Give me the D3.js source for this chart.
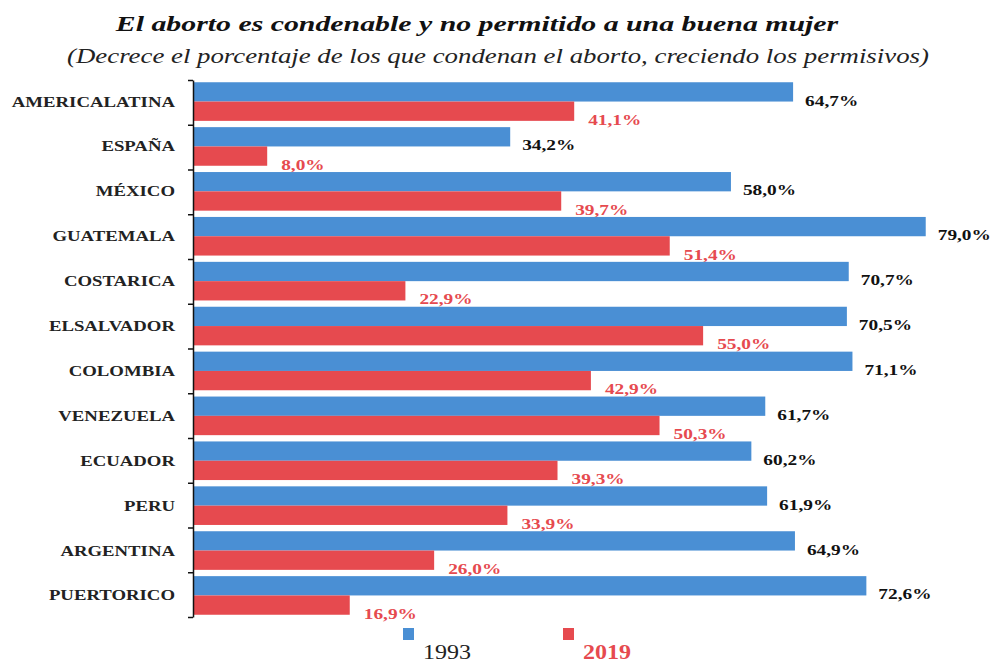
<!DOCTYPE html>
<html>
<head>
<meta charset="utf-8">
<script src="https://cdn.jsdelivr.net/npm/d3@7"></script>
<style>
  body { margin: 0; background: #fff; }
  text { font-family: "Liberation Serif", "DejaVu Serif", serif; }
</style>
</head>
<body>
<div class="chart"></div>
<script>
const countries = ['AMERICALATINA', 'ESPAÑA', 'MÉXICO', 'GUATEMALA', 'COSTARICA', 'ELSALVADOR',
    'COLOMBIA', 'VENEZUELA', 'ECUADOR', 'PERU', 'ARGENTINA', 'PUERTORICO'];
const years = ['1993', '2019'];
const values1993 = [64.7, 34.2, 58.0, 79.0, 70.7, 70.5, 71.1, 61.7, 60.2, 61.9, 64.9, 72.6];
const values2019 = [41.1, 8.0, 39.7, 51.4, 22.9, 55.0, 42.9, 50.3, 39.3, 33.9, 26.0, 16.9];

const title = 'El aborto es condenable y no permitido a una buena mujer';
const subtitle = '(Decrece el porcentaje de los que condenan el aborto, creciendo  los permisivos)';

const fullWidth = 992;
const fullHeight = 664;
const margin = { top: 80, left: 193 };
const plotHeight = 537;
const blue = '#4a8fd4';
const red = '#e64a4f';

const rows = countries.map((c, i) => ({ country: c, v: [values1993[i], values2019[i]] }));

const svg = d3.select('.chart')
    .append('svg')
        .attr('width', fullWidth)
        .attr('height', fullHeight);

// stretch text horizontally, the source image is wider than it is tall
function stretch(sel, k) {
    sel.each(function () {
        const w = this.getComputedTextLength();
        d3.select(this).attr('textLength', w * k).attr('lengthAdjust', 'spacingAndGlyphs');
    });
}

svg.append('text')
    .attr('x', 477).attr('y', 31)
    .attr('text-anchor', 'middle')
    .style('font-size', '21px').style('font-weight', 'bold').style('font-style', 'italic')
    .attr('fill', '#111')
    .text(title)
    .call(stretch, 1.42);

svg.append('text')
    .attr('x', 498).attr('y', 63)
    .attr('text-anchor', 'middle')
    .style('font-size', '20px').style('font-style', 'italic')
    .attr('fill', '#222')
    .text(subtitle)
    .call(stretch, 1.34);

const chart = svg.append('g')
    .attr('transform', `translate(${margin.left}, ${margin.top})`);

const yScale = d3.scaleBand()
    .domain(countries)
    .range([0, plotHeight])
    .paddingInner(0.14)
    .paddingOuter(0.05);

const ySub = d3.scaleBand()
    .domain(years)
    .range([0, yScale.bandwidth()]);

const xScale = d3.scaleLinear()
    .domain([0, 80])
    .range([0, 742]);

const groups = chart.selectAll('.group')
    .data(rows)
    .enter()
    .append('g')
        .attr('transform', d => `translate(0, ${yScale(d.country)})`);

groups.selectAll('rect')
    .data(d => d.v.map((v, i) => ({ year: years[i], v })))
    .enter()
    .append('rect')
        .attr('x', 0)
        .attr('y', d => ySub(d.year))
        .attr('width', d => xScale(d.v))
        .attr('height', ySub.bandwidth())
        .attr('fill', d => d.year === '1993' ? blue : red);

const fmt = v => v.toFixed(1).replace('.', ',') + '%';

// 1993 labels sit around the blue/red seam, 2019 labels just below the red bar
groups.append('text')
    .attr('x', d => xScale(d.v[0]) + 12)
    .attr('y', ySub.bandwidth() + 4)
    .style('font-size', '14px').style('font-weight', 'bold')
    .attr('fill', '#111')
    .text(d => fmt(d.v[0]))
    .call(stretch, 1.38);

groups.append('text')
    .attr('x', d => xScale(d.v[1]) + 14)
    .attr('y', yScale.bandwidth() + 4)
    .style('font-size', '14px').style('font-weight', 'bold')
    .attr('fill', red)
    .text(d => fmt(d.v[1]))
    .call(stretch, 1.38);

// axis: line with ticks at group boundaries
const yEdges = d3.scaleLinear()
    .domain([0, countries.length])
    .range([0, plotHeight]);

const yAxis = d3.axisLeft(yEdges)
    .tickValues(d3.range(countries.length + 1))
    .tickFormat('')
    .tickSize(5)
    .tickSizeOuter(0);

chart.append('g')
    .call(yAxis)
    .call(g => g.select('.domain').attr('stroke', '#111').attr('stroke-width', 1.5))
    .call(g => g.selectAll('.tick line').attr('stroke', '#111').attr('stroke-width', 1.5));

chart.selectAll('.country')
    .data(countries)
    .enter()
    .append('text')
        .attr('x', -18)
        .attr('y', d => yScale(d) + yScale.bandwidth() / 2 + 5)
        .attr('text-anchor', 'end')
        .style('font-size', '15px').style('font-weight', 'bold')
        .attr('fill', '#222')
        .text(d => d)
        .call(stretch, 1.25);

// legend
const legend = svg.append('g')
    .attr('transform', 'translate(403, 628)');

const legendX = d3.scaleOrdinal().domain(years).range([0, 160]);

legend.selectAll('rect')
    .data(years)
    .enter()
    .append('rect')
        .attr('x', d => legendX(d))
        .attr('y', 0)
        .attr('width', 11)
        .attr('height', 12)
        .attr('fill', d => d === '1993' ? blue : red);

legend.selectAll('text')
    .data(years)
    .enter()
    .append('text')
        .attr('x', d => legendX(d) + 20)
        .attr('y', 31)
        .style('font-size', '20px')
        .style('font-weight', d => d === '1993' ? 'normal' : 'bold')
        .attr('fill', d => d === '1993' ? '#222' : red)
        .text(d => d)
        .call(stretch, 1.2);
</script>
</body>
</html>
